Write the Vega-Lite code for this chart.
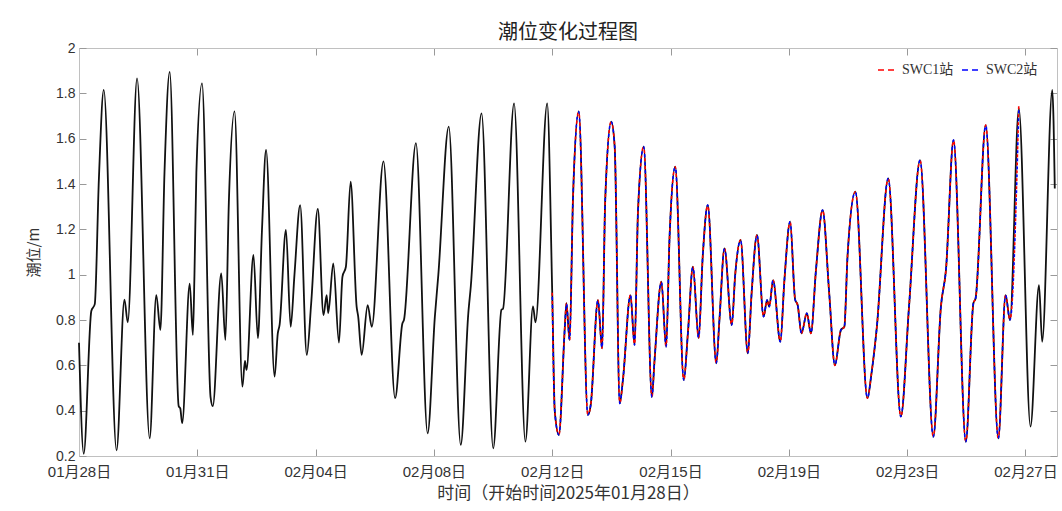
{
  "$schema": "https://vega.github.io/schema/vega-lite/v6.json",
  "width": 978,
  "height": 408,
  "autosize": {"type": "none"},
  "padding": {"left": 79, "top": 48, "right": 5, "bottom": 55},
  "background": "white",
  "config": {"view": {"stroke": null}, "font": "Liberation Sans"},
  "title": {"text": "潮位变化过程图", "font": "Noto Sans CJK SC", "fontSize": 20, "fontWeight": "normal", "color": "#222", "anchor": "middle", "offset": -2},
  "data": {"values": [
    {"t": "2025-01-28T00:00", "obs": 0.70},
    {"t": "2025-01-28T03:36", "obs": 0.21},
    {"t": "2025-01-28T09:22", "obs": 0.84},
    {"t": "2025-01-28T12:00", "obs": 0.87},
    {"t": "2025-01-28T15:07", "obs": 1.42},
    {"t": "2025-01-28T18:50", "obs": 1.815},
    {"t": "2025-01-29T04:34", "obs": 0.225},
    {"t": "2025-01-29T10:34", "obs": 0.89},
    {"t": "2025-01-29T13:05", "obs": 0.79},
    {"t": "2025-01-29T20:10", "obs": 1.866},
    {"t": "2025-01-30T05:46", "obs": 0.278},
    {"t": "2025-01-30T10:48", "obs": 0.91},
    {"t": "2025-01-30T13:55", "obs": 0.756},
    {"t": "2025-01-30T17:02", "obs": 1.45},
    {"t": "2025-01-30T21:00", "obs": 1.895},
    {"t": "2025-01-31T03:50", "obs": 0.42},
    {"t": "2025-01-31T05:02", "obs": 0.41},
    {"t": "2025-01-31T06:29", "obs": 0.345},
    {"t": "2025-01-31T12:14", "obs": 0.96},
    {"t": "2025-01-31T14:38", "obs": 0.734},
    {"t": "2025-01-31T15:50", "obs": 1.0},
    {"t": "2025-01-31T17:17", "obs": 1.45},
    {"t": "2025-01-31T21:36", "obs": 1.844},
    {"t": "2025-02-01T04:05", "obs": 0.46},
    {"t": "2025-02-01T05:46", "obs": 0.42},
    {"t": "2025-02-01T12:14", "obs": 1.006},
    {"t": "2025-02-01T15:22", "obs": 0.712},
    {"t": "2025-02-01T18:00", "obs": 1.32},
    {"t": "2025-02-01T22:19", "obs": 1.72},
    {"t": "2025-02-02T04:19", "obs": 0.506},
    {"t": "2025-02-02T06:14", "obs": 0.62},
    {"t": "2025-02-02T07:26", "obs": 0.58},
    {"t": "2025-02-02T12:43", "obs": 1.087},
    {"t": "2025-02-02T16:05", "obs": 0.72},
    {"t": "2025-02-02T19:12", "obs": 1.197},
    {"t": "2025-02-02T22:19", "obs": 1.55},
    {"t": "2025-02-03T04:48", "obs": 0.55},
    {"t": "2025-02-03T07:12", "obs": 0.74},
    {"t": "2025-02-03T08:38", "obs": 0.78},
    {"t": "2025-02-03T13:26", "obs": 1.197},
    {"t": "2025-02-03T17:02", "obs": 0.77},
    {"t": "2025-02-03T19:55", "obs": 1.0},
    {"t": "2025-02-04T00:14", "obs": 1.307},
    {"t": "2025-02-04T05:17", "obs": 0.646},
    {"t": "2025-02-04T08:38", "obs": 0.874},
    {"t": "2025-02-04T13:41", "obs": 1.29},
    {"t": "2025-02-04T18:00", "obs": 0.822},
    {"t": "2025-02-04T20:24", "obs": 0.91},
    {"t": "2025-02-04T21:36", "obs": 0.83},
    {"t": "2025-02-05T01:26", "obs": 1.05},
    {"t": "2025-02-05T05:46", "obs": 0.70},
    {"t": "2025-02-05T08:24", "obs": 0.99},
    {"t": "2025-02-05T11:02", "obs": 1.035},
    {"t": "2025-02-05T14:38", "obs": 1.41},
    {"t": "2025-02-05T19:12", "obs": 0.859},
    {"t": "2025-02-05T20:24", "obs": 0.815},
    {"t": "2025-02-05T23:02", "obs": 0.646},
    {"t": "2025-02-06T03:36", "obs": 0.866},
    {"t": "2025-02-06T06:43", "obs": 0.77},
    {"t": "2025-02-06T15:36", "obs": 1.50},
    {"t": "2025-02-07T00:29", "obs": 0.455},
    {"t": "2025-02-07T06:00", "obs": 0.785},
    {"t": "2025-02-07T07:12", "obs": 0.80},
    {"t": "2025-02-07T16:19", "obs": 1.58},
    {"t": "2025-02-08T01:12", "obs": 0.30},
    {"t": "2025-02-08T06:43", "obs": 0.815},
    {"t": "2025-02-08T09:22", "obs": 1.0},
    {"t": "2025-02-08T17:17", "obs": 1.653},
    {"t": "2025-02-09T02:24", "obs": 0.249},
    {"t": "2025-02-09T08:10", "obs": 0.83},
    {"t": "2025-02-09T10:05", "obs": 0.95},
    {"t": "2025-02-09T18:14", "obs": 1.712},
    {"t": "2025-02-10T03:07", "obs": 0.234},
    {"t": "2025-02-10T09:22", "obs": 0.845},
    {"t": "2025-02-10T10:34", "obs": 0.85},
    {"t": "2025-02-10T18:58", "obs": 1.756},
    {"t": "2025-02-11T03:36", "obs": 0.263},
    {"t": "2025-02-11T09:22", "obs": 0.86},
    {"t": "2025-02-11T11:17", "obs": 0.79},
    {"t": "2025-02-11T20:10", "obs": 1.756},
    {"t": "2025-02-12T00:00", "obs": 0.92, "swc1": 0.92, "swc2": 0.92},
    {"t": "2025-02-12T01:55", "obs": 0.40, "swc1": 0.40, "swc2": 0.40},
    {"t": "2025-02-12T05:02", "obs": 0.293, "swc1": 0.293, "swc2": 0.293},
    {"t": "2025-02-12T09:36", "obs": 0.77, "swc1": 0.77, "swc2": 0.77},
    {"t": "2025-02-12T10:48", "obs": 0.874, "swc1": 0.874, "swc2": 0.874},
    {"t": "2025-02-12T13:12", "obs": 0.712, "swc1": 0.712, "swc2": 0.712},
    {"t": "2025-02-12T15:50", "obs": 1.344, "swc1": 1.344, "swc2": 1.344},
    {"t": "2025-02-12T20:10", "obs": 1.72, "swc1": 1.72, "swc2": 1.72},
    {"t": "2025-02-13T03:07", "obs": 0.381, "swc1": 0.381, "swc2": 0.381},
    {"t": "2025-02-13T05:17", "obs": 0.425, "swc1": 0.425, "swc2": 0.425},
    {"t": "2025-02-13T10:48", "obs": 0.888, "swc1": 0.888, "swc2": 0.888},
    {"t": "2025-02-13T13:55", "obs": 0.675, "swc1": 0.675, "swc2": 0.675},
    {"t": "2025-02-13T16:19", "obs": 1.33, "swc1": 1.33, "swc2": 1.33},
    {"t": "2025-02-13T20:53", "obs": 1.675, "swc1": 1.675, "swc2": 1.675},
    {"t": "2025-02-13T23:31", "obs": 1.565, "swc1": 1.565, "swc2": 1.565},
    {"t": "2025-02-14T03:22", "obs": 0.432, "swc1": 0.432, "swc2": 0.432},
    {"t": "2025-02-14T05:46", "obs": 0.535, "swc1": 0.535, "swc2": 0.535},
    {"t": "2025-02-14T11:31", "obs": 0.91, "swc1": 0.91, "swc2": 0.91},
    {"t": "2025-02-14T14:38", "obs": 0.69, "swc1": 0.69, "swc2": 0.69},
    {"t": "2025-02-14T17:17", "obs": 1.285, "swc1": 1.285, "swc2": 1.285},
    {"t": "2025-02-14T21:36", "obs": 1.565, "swc1": 1.565, "swc2": 1.565},
    {"t": "2025-02-15T03:50", "obs": 0.46, "swc1": 0.46, "swc2": 0.46},
    {"t": "2025-02-15T05:46", "obs": 0.616, "swc1": 0.616, "swc2": 0.616},
    {"t": "2025-02-15T11:02", "obs": 0.969, "swc1": 0.969, "swc2": 0.969},
    {"t": "2025-02-15T14:38", "obs": 0.682, "swc1": 0.682, "swc2": 0.682},
    {"t": "2025-02-15T17:17", "obs": 1.168, "swc1": 1.168, "swc2": 1.168},
    {"t": "2025-02-15T21:36", "obs": 1.476, "swc1": 1.476, "swc2": 1.476},
    {"t": "2025-02-16T04:05", "obs": 0.535, "swc1": 0.535, "swc2": 0.535},
    {"t": "2025-02-16T07:12", "obs": 0.741, "swc1": 0.741, "swc2": 0.741},
    {"t": "2025-02-16T11:02", "obs": 1.035, "swc1": 1.035, "swc2": 1.035},
    {"t": "2025-02-16T15:22", "obs": 0.72, "swc1": 0.72, "swc2": 0.72},
    {"t": "2025-02-16T18:29", "obs": 1.079, "swc1": 1.079, "swc2": 1.079},
    {"t": "2025-02-16T22:19", "obs": 1.307, "swc1": 1.307, "swc2": 1.307},
    {"t": "2025-02-17T04:48", "obs": 0.609, "swc1": 0.609, "swc2": 0.609},
    {"t": "2025-02-17T07:12", "obs": 0.80, "swc1": 0.80, "swc2": 0.80},
    {"t": "2025-02-17T11:02", "obs": 1.116, "swc1": 1.116, "swc2": 1.116},
    {"t": "2025-02-17T16:34", "obs": 0.778, "swc1": 0.778, "swc2": 0.778},
    {"t": "2025-02-17T19:12", "obs": 1.0, "swc1": 1.0, "swc2": 1.0},
    {"t": "2025-02-17T23:17", "obs": 1.153, "swc1": 1.153, "swc2": 1.153},
    {"t": "2025-02-18T04:48", "obs": 0.653, "swc1": 0.653, "swc2": 0.653},
    {"t": "2025-02-18T07:41", "obs": 0.918, "swc1": 0.918, "swc2": 0.918},
    {"t": "2025-02-18T11:46", "obs": 1.175, "swc1": 1.175, "swc2": 1.175},
    {"t": "2025-02-18T16:48", "obs": 0.815, "swc1": 0.815, "swc2": 0.815},
    {"t": "2025-02-18T19:26", "obs": 0.888, "swc1": 0.888, "swc2": 0.888},
    {"t": "2025-02-18T21:07", "obs": 0.859, "swc1": 0.859, "swc2": 0.859},
    {"t": "2025-02-19T00:00", "obs": 0.976, "swc1": 0.976, "swc2": 0.976},
    {"t": "2025-02-19T05:31", "obs": 0.704, "swc1": 0.704, "swc2": 0.704},
    {"t": "2025-02-19T08:38", "obs": 0.976, "swc1": 0.976, "swc2": 0.976},
    {"t": "2025-02-19T12:58", "obs": 1.234, "swc1": 1.234, "swc2": 1.234},
    {"t": "2025-02-19T16:48", "obs": 0.89, "swc1": 0.89, "swc2": 0.89},
    {"t": "2025-02-19T18:43", "obs": 0.866, "swc1": 0.866, "swc2": 0.866},
    {"t": "2025-02-19T21:36", "obs": 0.741, "swc1": 0.741, "swc2": 0.741},
    {"t": "2025-02-20T01:41", "obs": 0.83, "swc1": 0.83, "swc2": 0.83},
    {"t": "2025-02-20T04:48", "obs": 0.741, "swc1": 0.741, "swc2": 0.741},
    {"t": "2025-02-20T08:38", "obs": 1.02, "swc1": 1.02, "swc2": 1.02},
    {"t": "2025-02-20T13:41", "obs": 1.285, "swc1": 1.285, "swc2": 1.285},
    {"t": "2025-02-20T18:43", "obs": 0.918, "swc1": 0.918, "swc2": 0.918},
    {"t": "2025-02-20T23:02", "obs": 0.60, "swc1": 0.60, "swc2": 0.60},
    {"t": "2025-02-21T03:36", "obs": 0.756, "swc1": 0.756, "swc2": 0.756},
    {"t": "2025-02-21T06:14", "obs": 0.77, "swc1": 0.77, "swc2": 0.77},
    {"t": "2025-02-21T08:38", "obs": 1.08, "swc1": 1.08, "swc2": 1.08},
    {"t": "2025-02-21T14:38", "obs": 1.366, "swc1": 1.366, "swc2": 1.366},
    {"t": "2025-02-21T23:46", "obs": 0.455, "swc1": 0.455, "swc2": 0.455},
    {"t": "2025-02-22T02:53", "obs": 0.565, "swc1": 0.565, "swc2": 0.565},
    {"t": "2025-02-22T06:58", "obs": 0.77, "swc1": 0.77, "swc2": 0.77},
    {"t": "2025-02-22T15:36", "obs": 1.425, "swc1": 1.425, "swc2": 1.425},
    {"t": "2025-02-23T01:12", "obs": 0.374, "swc1": 0.374, "swc2": 0.374},
    {"t": "2025-02-23T07:26", "obs": 0.859, "swc1": 0.859, "swc2": 0.859},
    {"t": "2025-02-23T15:50", "obs": 1.505, "swc1": 1.505, "swc2": 1.505},
    {"t": "2025-02-24T01:55", "obs": 0.285, "swc1": 0.285, "swc2": 0.285},
    {"t": "2025-02-24T07:41", "obs": 0.859, "swc1": 0.859, "swc2": 0.859},
    {"t": "2025-02-24T11:31", "obs": 1.02, "swc1": 1.02, "swc2": 1.02},
    {"t": "2025-02-24T17:17", "obs": 1.594, "swc1": 1.594, "swc2": 1.594},
    {"t": "2025-02-25T02:38", "obs": 0.263, "swc1": 0.263, "swc2": 0.263},
    {"t": "2025-02-25T08:24", "obs": 0.874, "swc1": 0.874, "swc2": 0.874},
    {"t": "2025-02-25T10:05", "obs": 0.896, "swc1": 0.896, "swc2": 0.896},
    {"t": "2025-02-25T17:46", "obs": 1.66, "swc1": 1.66, "swc2": 1.66},
    {"t": "2025-02-26T03:22", "obs": 0.278, "swc1": 0.278, "swc2": 0.278},
    {"t": "2025-02-26T08:53", "obs": 0.91, "swc1": 0.91, "swc2": 0.91},
    {"t": "2025-02-26T12:14", "obs": 0.80, "swc1": 0.80, "swc2": 0.80},
    {"t": "2025-02-26T18:58", "obs": 1.734, "swc1": 1.755, "swc2": 1.734},
    {"t": "2025-02-27T03:50", "obs": 0.33},
    {"t": "2025-02-27T10:19", "obs": 0.954},
    {"t": "2025-02-27T12:43", "obs": 0.704},
    {"t": "2025-02-27T20:24", "obs": 1.815},
    {"t": "2025-02-27T22:19", "obs": 1.38}
  ]},
  "layer": [
    {
      "mark": {"type": "line", "color": "#111111", "strokeWidth": 1.8, "interpolate": "monotone"},
      "encoding": {
        "x": {"field": "t", "type": "temporal",
          "scale": {"domain": [{"year": 2025, "month": 1, "date": 28}, {"year": 2025, "month": 2, "date": 28}]},
          "axis": {"orient": "bottom", "grid": false,
            "values": [
              {"year": 2025, "month": 1, "date": 28},
              {"year": 2025, "month": 1, "date": 31, "hours": 18},
              {"year": 2025, "month": 2, "date": 4, "hours": 12},
              {"year": 2025, "month": 2, "date": 8, "hours": 6},
              {"year": 2025, "month": 2, "date": 12},
              {"year": 2025, "month": 2, "date": 15, "hours": 18},
              {"year": 2025, "month": 2, "date": 19, "hours": 12},
              {"year": 2025, "month": 2, "date": 23, "hours": 6},
              {"year": 2025, "month": 2, "date": 27}
            ],
            "format": "%m月%d日", "labelFont": "Liberation Sans, Noto Sans CJK SC", "labelFontSize": 15, "labelColor": "#333333",
            "labelBaseline": "top", "labelPadding": 15, "labelFlush": false, "labelOverlap": false,
            "tickSize": -7, "tickColor": "#999999", "domainColor": "#c0c0c0",
            "title": "时间（开始时间2025年01月28日）", "titleFont": "Noto Sans CJK SC", "titleFontSize": 17, "titleFontWeight": "normal", "titleColor": "#333333", "titlePadding": 6}},
        "y": {"field": "obs", "type": "quantitative",
          "scale": {"domain": [0.2, 2], "nice": false, "zero": false},
          "axis": {"orient": "left", "grid": false, "values": [0.2, 0.4, 0.6, 0.8, 1, 1.2, 1.4, 1.6, 1.8, 2], "format": "~g",
            "labelFont": "Liberation Sans", "labelFontSize": 14, "labelColor": "#333333", "labelPadding": 11, "labelFlush": false, "labelOverlap": false,
            "tickSize": -7, "tickColor": "#999999", "domainColor": "#c0c0c0",
            "title": "潮位/m", "titleFont": "Noto Sans CJK SC", "titleFontSize": 15, "titleFontWeight": "normal", "titleColor": "#333333", "titlePadding": 14}}
      }
    },
    {
      "mark": {"type": "line", "strokeWidth": 1.6, "strokeDash": [3, 5], "interpolate": "monotone"},
      "encoding": {
        "x": {"field": "t", "type": "temporal",
          "scale": {"domain": [{"year": 2025, "month": 1, "date": 28}, {"year": 2025, "month": 2, "date": 28}]},
          "axis": {"orient": "top", "grid": false, "labels": false, "title": null,
            "values": [
              {"year": 2025, "month": 1, "date": 28},
              {"year": 2025, "month": 1, "date": 31, "hours": 18},
              {"year": 2025, "month": 2, "date": 4, "hours": 12},
              {"year": 2025, "month": 2, "date": 8, "hours": 6},
              {"year": 2025, "month": 2, "date": 12},
              {"year": 2025, "month": 2, "date": 15, "hours": 18},
              {"year": 2025, "month": 2, "date": 19, "hours": 12},
              {"year": 2025, "month": 2, "date": 23, "hours": 6},
              {"year": 2025, "month": 2, "date": 27}
            ],
            "tickSize": -7, "tickColor": "#999999", "domainColor": "#c0c0c0"}},
        "y": {"field": "swc1", "type": "quantitative",
          "scale": {"domain": [0.2, 2], "nice": false, "zero": false},
          "axis": {"orient": "right", "grid": false, "labels": false, "title": null, "values": [0.2, 0.4, 0.6, 0.8, 1, 1.2, 1.4, 1.6, 1.8, 2],
            "tickSize": -7, "tickColor": "#999999", "domainColor": "#c0c0c0"}},
        "color": {"datum": "SWC1站", "type": "nominal",
          "scale": {"domain": ["SWC1站", "SWC2站"], "range": ["#ff0000", "#0000ff"]},
          "legend": {"title": null, "orient": "none", "legendX": 798, "legendY": 11, "direction": "horizontal", "symbolType": "stroke", "symbolDash": [6, 4], "symbolStrokeWidth": 1.5, "symbolSize": 400,
            "labelFont": "Liberation Serif, Noto Sans CJK SC", "labelFontSize": 14, "labelColor": "#333333", "columnPadding": 5, "labelOffset": 3}}
      }
    },
    {
      "mark": {"type": "line", "strokeWidth": 1.6, "strokeDash": [3, 5], "strokeDashOffset": 4, "interpolate": "monotone"},
      "encoding": {
        "x": {"field": "t", "type": "temporal",
          "scale": {"domain": [{"year": 2025, "month": 1, "date": 28}, {"year": 2025, "month": 2, "date": 28}]},
          "axis": null},
        "y": {"field": "swc2", "type": "quantitative",
          "scale": {"domain": [0.2, 2], "nice": false, "zero": false},
          "axis": null},
        "color": {"datum": "SWC2站", "type": "nominal"}
      }
    }
  ],
  "resolve": {"axis": {"x": "independent", "y": "independent"}}
}
